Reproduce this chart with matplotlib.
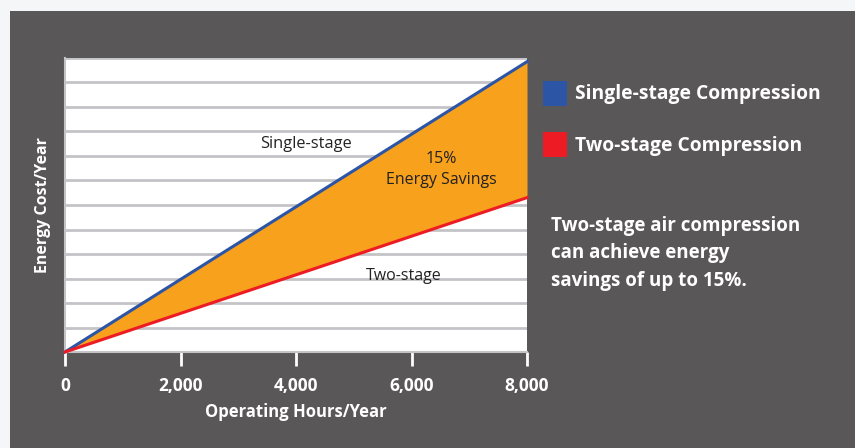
import matplotlib
matplotlib.use("Agg")
import matplotlib.pyplot as plt
from matplotlib.patches import Rectangle

hours = [0, 8000]
single_stage = [0, 11.85]
two_stage = [0, 6.3]
x_ticks = [0, 2000, 4000, 6000, 8000]
x_tick_labels = ["0", "2,000", "4,000", "6,000", "8,000"]
legend_labels = ["Single-stage Compression", "Two-stage Compression"]
note = "Two-stage air compression\ncan achieve energy\nsavings of up to 15%."

BG = "#5a5759"
BLUE = "#2c55a5"
RED = "#ed1c24"
ORANGE = "#f8a11c"
GRID = "#c4c4c8"
FONT = "Open Sans"

W, H = 855, 448
fig = plt.figure(figsize=(W / 100, H / 100), dpi=100, facecolor="#f4f6f8")
fig.patches.append(Rectangle((10 / W, 0), 1 - 10 / W, 1 - 11 / H,
                             transform=fig.transFigure, facecolor=BG,
                             edgecolor="none", zorder=-10))

ax = fig.add_axes([65 / W, 1 - 352 / H, (527 - 65) / W, (352 - 58) / H])
ax.set_zorder(5)
ax.set_facecolor("white")
ax.set_xlim(0, 8000)
ax.set_ylim(0, 12)
ax.set_yticks(range(0, 13))
ax.yaxis.grid(True, color=GRID, lw=2)
ax.set_axisbelow(True)
ax.tick_params(axis="y", length=0, labelleft=False)
ax.set_xticks(x_ticks, labels=x_tick_labels)
ax.tick_params(axis="x", colors="white", length=10, width=2, pad=8,
               labelsize=12.5)
for lbl in ax.get_xticklabels():
    lbl.set_fontfamily(FONT)
    lbl.set_fontweight("bold")
for side in ["top", "right"]:
    ax.spines[side].set_visible(False)
ax.spines["left"].set_color(GRID)
ax.spines["left"].set_linewidth(1.5)
ax.spines["bottom"].set_color(GRID)
ax.spines["bottom"].set_linewidth(1.5)

ax.fill_between(hours, two_stage, single_stage, color=ORANGE, lw=0, zorder=2)
ax.plot(hours, single_stage, color=BLUE, lw=2.2, zorder=3, clip_on=False)
ax.plot(hours, two_stage, color=RED, lw=2.2, zorder=3, clip_on=False)

ax.text(3380, 8.49, "Single-stage", ha="left", va="center", fontsize=11.8,
        fontfamily=FONT, color="#222222")
ax.text(6510, 7.45, "15%\nEnergy Savings", ha="center", va="center",
        fontsize=11.5, fontfamily=FONT, color="#222222", linespacing=1.45)
ax.text(5212, 3.1, "Two-stage", ha="left", va="center", fontsize=11.5,
        fontfamily=FONT, color="#222222")

ax.set_xlabel("Operating Hours/Year", color="white", fontsize=12,
              fontweight="bold", fontfamily=FONT, labelpad=6)
ax.set_ylabel("Energy Cost/Year", color="white", fontsize=11.5,
              fontweight="bold", fontfamily=FONT, labelpad=10)

# legend squares and labels
for i, (lab, col) in enumerate(zip(legend_labels, [BLUE, RED])):
    y_top = 81 + i * 51
    fig.patches.append(Rectangle((543 / W, 1 - (y_top + 25) / H), 24 / W, 25 / H,
                                 transform=fig.transFigure, facecolor=col,
                                 edgecolor="none", zorder=2))
    fig.text(575 / W, 1 - (y_top + 18.5) / H, lab, color="white", fontsize=13.9,
             fontweight="bold", fontfamily=FONT, va="baseline", ha="left")

fig.text(551 / W, 1 - 253 / H, note, color="white", fontsize=13.5,
         fontweight="bold", fontfamily=FONT, va="center", ha="left",
         linespacing=1.5)

fig.savefig("out.png", dpi=100, facecolor=fig.get_facecolor())
